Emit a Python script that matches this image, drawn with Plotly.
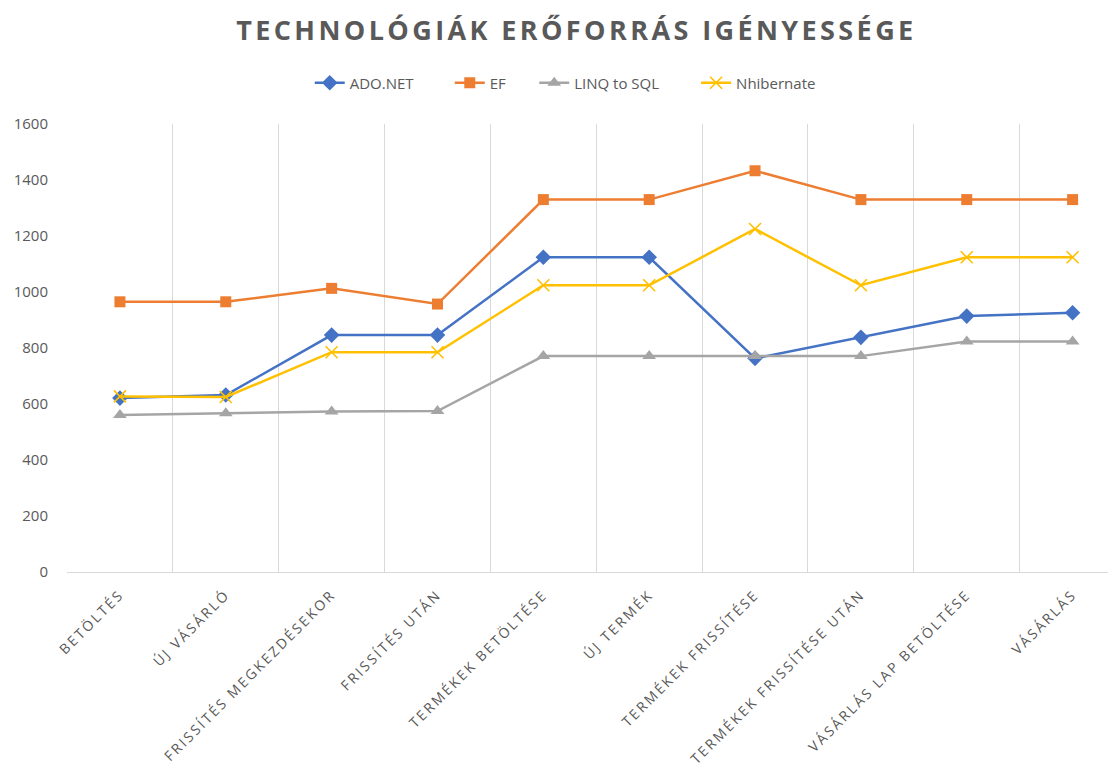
import plotly.graph_objects as go

categories = ["BETÖLTÉS", "ÚJ VÁSÁRLÓ", "FRISSÍTÉS MEGKEZDÉSEKOR", "FRISSÍTÉS UTÁN",
              "TERMÉKEK BETÖLTÉSE", "ÚJ TERMÉK", "TERMÉKEK FRISSÍTÉSE",
              "TERMÉKEK FRISSÍTÉSE UTÁN", "VÁSÁRLÁS LAP BETÖLTÉSE", "VÁSÁRLÁS"]
ado_net = [621, 632, 846, 846, 1124, 1124, 763, 838, 914, 926]
ef = [965, 965, 1013, 957, 1330, 1330, 1433, 1330, 1330, 1330]
linq_to_sql = [561, 567, 573, 575, 771, 771, 771, 771, 823, 823]
nhibernate = [627, 625, 785, 785, 1024, 1024, 1225, 1024, 1124, 1124]
y_ticks = [0, 200, 400, 600, 800, 1000, 1200, 1400, 1600]

series = [
    ("ADO.NET", ado_net, "#4472C4", "diamond", 12),
    ("EF", ef, "#ED7D31", "square", 11),
    ("LINQ to SQL", linq_to_sql, "#A5A5A5", "triangle-up", 12),
    ("Nhibernate", nhibernate, "#FFC000", "x-thin", 12),
]
legend_ids = ["legend", "legend2", "legend3", "legend4"]
legend_x = [0.2314, 0.3649, 0.4454, 0.5997]

fig = go.Figure()
for (name, vals, color, sym, size), lid in zip(series, legend_ids):
    fig.add_trace(go.Scatter(
        x=categories, y=vals, name=name, mode="lines+markers", legend=lid,
        line=dict(color=color, width=2.5),
        marker=dict(symbol=sym, size=size, color=color,
                    line=dict(color=color, width=1.6 if sym == "x-thin" else 0)),
    ))

tick_text = ['<span style="letter-spacing:2.3px">%s</span>' % c for c in categories]

legend_common = dict(orientation="h", xanchor="left", y=1.0915, yanchor="middle",
                     font=dict(size=15, color="#595959"), itemwidth=30,
                     bgcolor="rgba(0,0,0,0)", borderwidth=0)
legends = {lid: dict(legend_common, x=lx) for lid, lx in zip(legend_ids, legend_x)}

fig.update_layout(
    width=1108, height=763,
    margin=dict(l=59, r=0, t=116, b=199),
    paper_bgcolor="white", plot_bgcolor="white",
    font=dict(family="Open Sans, Lato, sans-serif", color="#595959", size=14),
    title=dict(
        text='<span style="letter-spacing:3.4px">TECHNOLÓGIÁK ERŐFORRÁS IGÉNYESSÉGE</span>',
        x=0.513, xanchor="center", y=0.971, yanchor="middle",
        font=dict(size=27, color="#595959", family="Open Sans, sans-serif", weight="bold"),
    ),
    showlegend=True,
    xaxis=dict(
        type="category", range=[-0.5, 9.41], tickangle=-45, tickson="boundaries",
        tickmode="array", tickvals=categories, ticktext=tick_text,
        showgrid=True, gridcolor="#D9D9D9", gridwidth=1,
        showline=True, linecolor="#D9D9D9", linewidth=1, ticks="",
        tickfont=dict(size=14, color="#595959"), ticklabelstandoff=8,
    ),
    yaxis=dict(
        range=[0, 1600], tickvals=y_ticks, showgrid=False, zeroline=False,
        showline=False, ticks="", tickfont=dict(size=15, color="#595959"),
        ticklabelstandoff=18,
    ),
    **legends,
)

fig.write_html("out.html")
